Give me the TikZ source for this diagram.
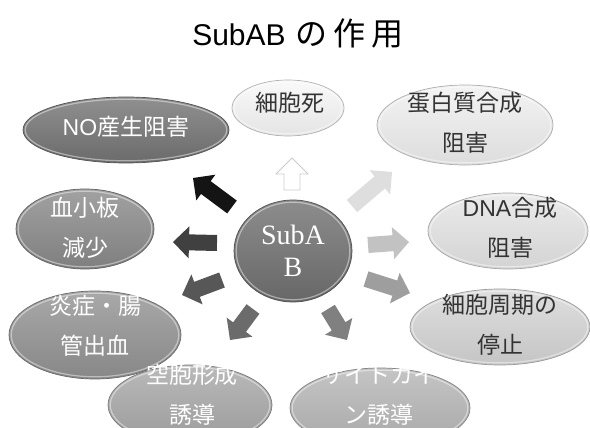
\documentclass[tikz,border=0pt]{standalone}
\usepackage{fontspec}
\setmainfont{Noto Sans CJK JP}
\newfontfamily\lat{Liberation Sans}
\newfontfamily\tms{Liberation Serif}
\usetikzlibrary{shapes.geometric,calc}
\definecolor{gNO}{HTML}{747474}
\definecolor{gPL}{HTML}{8A8A8A}
\definecolor{gIN}{HTML}{939393}
\definecolor{gVA}{HTML}{A8A8A8}
\definecolor{gCY}{HTML}{B6B6B6}
\definecolor{gCC}{HTML}{D6D6D6}
\definecolor{gDN}{HTML}{E6E6E6}
\definecolor{gPR}{HTML}{F0F0F0}
\definecolor{gDE}{HTML}{F8F8F8}
\definecolor{gSB}{HTML}{707070}
\definecolor{tdark}{HTML}{333333}
\tikzset{
  ell/.style={ellipse, inner sep=0pt, draw=#1!72!black, line width=0.7pt,
    top color=#1!80!white, bottom color=#1!92!black},
  rim/.style={draw=white, line width=1.2pt, opacity=0.45},
  txtw/.style={text=white, font=\fontsize{23}{40}\selectfont, align=center, inner sep=0pt},
  txtd/.style={text=tdark, font=\fontsize{23}{40}\selectfont, align=center, inner sep=0pt},
  arr/.style={fill=#1, draw=none},
}
% \ellnode{name}{colour}{x}{y}{width}{height}
\newcommand\ellnode[6]{%
  \node[ell=#2, minimum width=#5, minimum height=#6] (#1) at (#3,#4) {};
  \draw[rim] (#1.center) ellipse ({#5/2-2.2} and {#6/2-2.2});}
\newcommand\blockarr[3]{%
  \coordinate (#2-#3-h) at ($(#3)!16pt!(#2)$);
  \filldraw[#1] ($(#2)!8pt!90:(#3)$) -- ($(#2-#3-h)!8pt!-90:(#2)$)
    -- ($(#2-#3-h)!16pt!-90:(#2)$) -- (#3) -- ($(#2-#3-h)!16pt!90:(#2)$)
    -- ($(#2-#3-h)!8pt!90:(#2)$) -- ($(#2)!8pt!-90:(#3)$) -- cycle;}
\begin{document}
\begin{tikzpicture}[x=1pt,y=1pt]
\useasboundingbox[fill=white] (0,0) rectangle (590,428);
% title
\node (title) at (298,395) {{\lat\fontsize{30}{30}\selectfont SubAB}\hspace{10pt}{\fontsize{32}{32}\selectfont の\hspace{6pt}作\hspace{6pt}用}};
% ellipses
\ellnode{death}{gDE}{288}{320}{112}{56}
\ellnode{prot}{gPR}{465}{303}{176}{80}
\ellnode{no}{gNO}{126}{298}{206}{66}
\ellnode{plt}{gPL}{85}{199}{138}{80}
\ellnode{dna}{gDN}{508}{197}{160}{76}
\ellnode{infl}{gIN}{95}{93}{172}{88}
\ellnode{cyc}{gCC}{500}{101}{180}{76}
\ellnode{vac}{gVA}{190}{23}{164}{80}
\ellnode{cyt}{gCY}{380}{20}{180}{80}
\ellnode{sub}{gSB}{293}{177}{118}{102}
% texts
\node[txtd] at (290,325) {細胞死};
\node[txtd] at (465,305) {蛋白質合成\\阻害};
\node[txtw] at (126,301) {{\lat NO}産生阻害};
\node[txtw] at (85,200) {血小板\\減少};
\node[txtd] at (510,200) {{\lat DNA}合成\\阻害};
\node[txtw] at (95,102) {炎症・腸\\管出血};
\node[txtd] at (500,103) {細胞周期の\\停止};
\node[txtw] at (192,33) {空胞形成\\誘導};
\node[txtw] at (379,33) {サイトカイ\\ン誘導};
\node[text=white, font={\tms\fontsize{28}{32}\selectfont}, align=center, inner sep=0pt] at (sub) {SubA\\B};
% arrow end points
\coordinate (aNOt) at (232,221); \coordinate (aNOh) at (193,250);
\coordinate (aPLt) at (217,185); \coordinate (aPLh) at (173,186);
\coordinate (aINt) at (222,148); \coordinate (aINh) at (182,133);
\coordinate (aVAt) at (253,119); \coordinate (aVAh) at (230,88);
\coordinate (aCYt) at (328,119); \coordinate (aCYh) at (347,88);
\coordinate (aCCt) at (366,149); \coordinate (aCCh) at (410,135);
\coordinate (aDNt) at (368,183); \coordinate (aDNh) at (409,186);
\coordinate (aPRt) at (352,222); \coordinate (aPRh) at (392,256);
\coordinate (aDEt) at (292,238); \coordinate (aDEh) at (292,270);
% arrows
\blockarr{arr=black!92}{aNOt}{aNOh}
\blockarr{arr=black!75}{aPLt}{aPLh}
\blockarr{arr=black!66}{aINt}{aINh}
\blockarr{arr=black!58}{aVAt}{aVAh}
\blockarr{arr=black!50}{aCYt}{aCYh}
\blockarr{arr=black!38}{aCCt}{aCCh}
\blockarr{arr=black!24}{aDNt}{aDNh}
\blockarr{arr=black!13}{aPRt}{aPRh}
\blockarr{fill=white, draw=black!20, line width=0.8pt}{aDEt}{aDEh}
\end{tikzpicture}
\end{document}
